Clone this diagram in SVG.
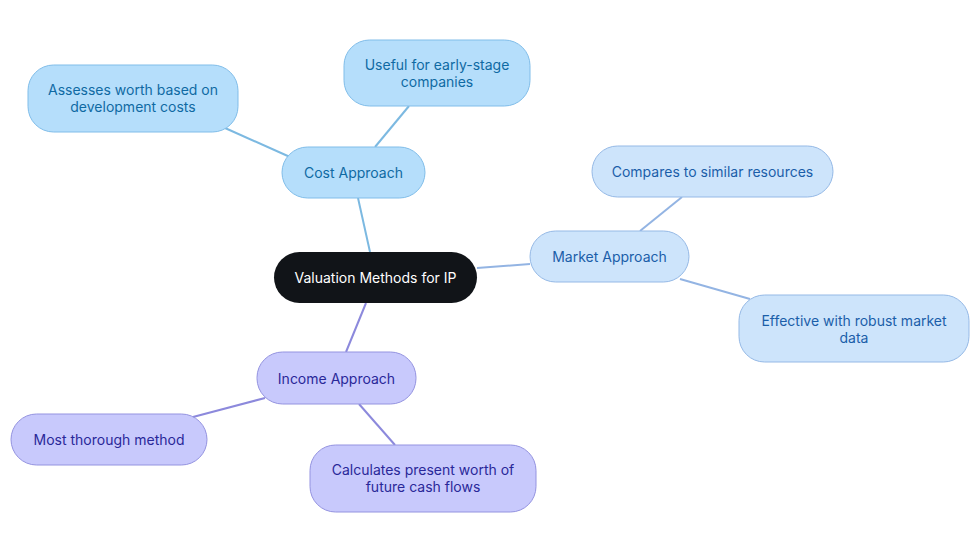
<svg xmlns="http://www.w3.org/2000/svg" width="980" height="553" viewBox="0 0 980 553">
<style>
text{font-family:Inter,"Open Sans","Liberation Sans",sans-serif;font-size:14px;text-anchor:middle;dominant-baseline:central}
.cost rect{fill:#b5defb;stroke:#80bde9;stroke-width:1}
.cost text{fill:#0f6aa3}
.mkt rect{fill:#cde4fb;stroke:#95b9e6;stroke-width:1}
.mkt text{fill:#1b5ea9}
.inc rect{fill:#c8c9fc;stroke:#9493e0;stroke-width:1}
.inc text{fill:#2a2899}
.e-cost{stroke:#7cb9e1;stroke-width:2;fill:none}
.e-mkt{stroke:#93b4e3;stroke-width:2;fill:none}
.e-inc{stroke:#8c89dc;stroke-width:2;fill:none}
</style>
<rect width="980" height="553" fill="#ffffff"/>
<g id="connectors">
<line class="e-cost" x1="370" y1="252" x2="358" y2="198"/>
<line class="e-cost" x1="375" y1="147" x2="409" y2="106"/>
<line class="e-cost" x1="290" y1="157" x2="225" y2="128"/>
<line class="e-mkt" x1="477" y1="268" x2="530" y2="264"/>
<line class="e-mkt" x1="640" y1="231" x2="682" y2="197"/>
<line class="e-mkt" x1="680" y1="279" x2="750" y2="299"/>
<line class="e-inc" x1="366" y1="303" x2="346" y2="352"/>
<line class="e-inc" x1="265" y1="398" x2="193" y2="417"/>
<line class="e-inc" x1="359" y1="404" x2="395" y2="445"/>
</g>
<g id="root">
<rect x="274" y="252" width="203" height="51" rx="25.5" fill="#111418"/>
<text x="375.5" y="277.5" fill="#ffffff">Valuation Methods for IP</text>
</g>
<g id="cost" class="cost">
<rect x="282" y="147" width="143" height="51" rx="25.5"/>
<text x="353.5" y="172.5">Cost Approach</text>
</g>
<g id="cost-useful" class="cost">
<rect x="344" y="40" width="186" height="66" rx="25.5"/>
<text x="437" y="64.5">Useful for early-stage</text>
<text x="437" y="81.5">companies</text>
</g>
<g id="cost-assesses" class="cost">
<rect x="28" y="65" width="210" height="67" rx="25.5"/>
<text x="133" y="89.5">Assesses worth based on</text>
<text x="133" y="106.5">development costs</text>
</g>
<g id="market" class="mkt">
<rect x="530" y="231" width="159" height="51" rx="25.5"/>
<text x="609.5" y="256.5">Market Approach</text>
</g>
<g id="market-compares" class="mkt">
<rect x="592" y="146" width="241" height="51" rx="25.5"/>
<text x="712.5" y="171.5">Compares to similar resources</text>
</g>
<g id="market-effective" class="mkt">
<rect x="739" y="295" width="230" height="67" rx="25.5"/>
<text x="854" y="320">Effective with robust market</text>
<text x="854" y="337">data</text>
</g>
<g id="income" class="inc">
<rect x="257" y="352" width="159" height="52" rx="25.5"/>
<text x="336.5" y="378">Income Approach</text>
</g>
<g id="income-most" class="inc">
<rect x="11" y="414" width="196" height="51" rx="25.5"/>
<text x="109" y="439.5">Most thorough method</text>
</g>
<g id="income-calc" class="inc">
<rect x="310" y="445" width="226" height="67" rx="25.5"/>
<text x="423" y="469.5">Calculates present worth of</text>
<text x="423" y="486.5">future cash flows</text>
</g>
</svg>
